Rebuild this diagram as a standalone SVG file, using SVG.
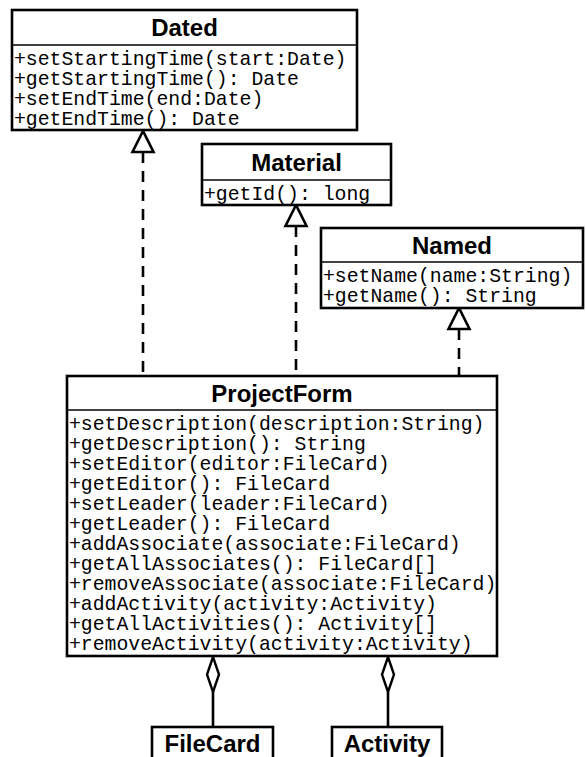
<svg xmlns="http://www.w3.org/2000/svg" width="586" height="757" viewBox="0 0 586 757">
  <defs>
    <style>
      .box { fill: #ffffff; stroke: #000000; stroke-width: 2.6; }
      .sep { stroke: #000000; stroke-width: 1.6; }
      .title { font-family: "Liberation Sans", Arial, sans-serif; font-weight: bold; font-size: 24px; fill: #000000; text-anchor: middle; }
      .op { font-family: "Liberation Mono", "Courier New", monospace; font-size: 19.8px; fill: #000000; }
      .dash { stroke: #000000; stroke-width: 2.6; stroke-dasharray: 11 8; fill: none; }
      .solid { stroke: #000000; stroke-width: 2.6; fill: none; }
      .realize { fill: #ffffff; stroke: #000000; stroke-width: 2.6; stroke-linejoin: miter; }
      .aggr { fill: #ffffff; stroke: #000000; stroke-width: 2.4; }
    </style>
  </defs>

  <rect width="586" height="757" fill="#ffffff"/>

  <!-- interface realizations and aggregations -->
  <g id="connectors">
    <line class="dash" x1="143" y1="152" x2="143" y2="376"/>
    <polygon class="realize" points="143,131 132.5,152 153.5,152"/>

    <line class="dash" x1="296" y1="226" x2="296" y2="376"/>
    <polygon class="realize" points="296,205 285.5,226 306.5,226"/>

    <line class="dash" x1="459" y1="329" x2="459" y2="376"/>
    <polygon class="realize" points="459,308 448.5,329 469.5,329"/>

    <line class="solid" x1="213" y1="692" x2="213" y2="727"/>
    <polygon class="aggr" points="213,657 219,674.5 213,692 207,674.5"/>

    <line class="solid" x1="388" y1="692" x2="388" y2="727"/>
    <polygon class="aggr" points="388,657 394,674.5 388,692 382,674.5"/>
  </g>

  <g id="Dated">
    <rect class="box" x="12" y="10" width="345" height="120"/>
    <line class="sep" x1="12" y1="45" x2="357" y2="45"/>
    <text class="title" x="184.5" y="36">Dated</text>
    <text class="op" x="14" y="65">+setStartingTime(start:Date)</text>
    <text class="op" x="14" y="85">+getStartingTime(): Date</text>
    <text class="op" x="14" y="105">+setEndTime(end:Date)</text>
    <text class="op" x="14" y="125">+getEndTime(): Date</text>
  </g>

  <g id="Material">
    <rect class="box" x="202" y="144" width="189" height="61"/>
    <line class="sep" x1="202" y1="180" x2="391" y2="180"/>
    <text class="title" x="296.5" y="171">Material</text>
    <text class="op" x="204" y="200">+getId(): long</text>
  </g>

  <g id="Named">
    <rect class="box" x="321" y="228" width="262" height="80"/>
    <line class="sep" x1="321" y1="262" x2="583" y2="262"/>
    <text class="title" x="452" y="254">Named</text>
    <text class="op" x="323" y="282">+setName(name:String)</text>
    <text class="op" x="323" y="302">+getName(): String</text>
  </g>

  <g id="ProjectForm">
    <rect class="box" x="67" y="376" width="430" height="280"/>
    <line class="sep" x1="67" y1="410" x2="497" y2="410"/>
    <text class="title" x="282" y="402">ProjectForm</text>
    <text class="op" x="69" y="430">+setDescription(description:String)</text>
    <text class="op" x="69" y="450">+getDescription(): String</text>
    <text class="op" x="69" y="470">+setEditor(editor:FileCard)</text>
    <text class="op" x="69" y="490">+getEditor(): FileCard</text>
    <text class="op" x="69" y="510">+setLeader(leader:FileCard)</text>
    <text class="op" x="69" y="530">+getLeader(): FileCard</text>
    <text class="op" x="69" y="550">+addAssociate(associate:FileCard)</text>
    <text class="op" x="69" y="570">+getAllAssociates(): FileCard[]</text>
    <text class="op" x="69" y="590">+removeAssociate(associate:FileCard)</text>
    <text class="op" x="69" y="610">+addActivity(activity:Activity)</text>
    <text class="op" x="69" y="630">+getAllActivities(): Activity[]</text>
    <text class="op" x="69" y="650">+removeActivity(activity:Activity)</text>
  </g>

  <g id="FileCard">
    <rect class="box" x="152" y="727" width="121" height="50"/>
    <text class="title" x="212.5" y="752">FileCard</text>
  </g>

  <g id="Activity">
    <rect class="box" x="332" y="727" width="110" height="50"/>
    <text class="title" x="387" y="752">Activity</text>
  </g>
</svg>
